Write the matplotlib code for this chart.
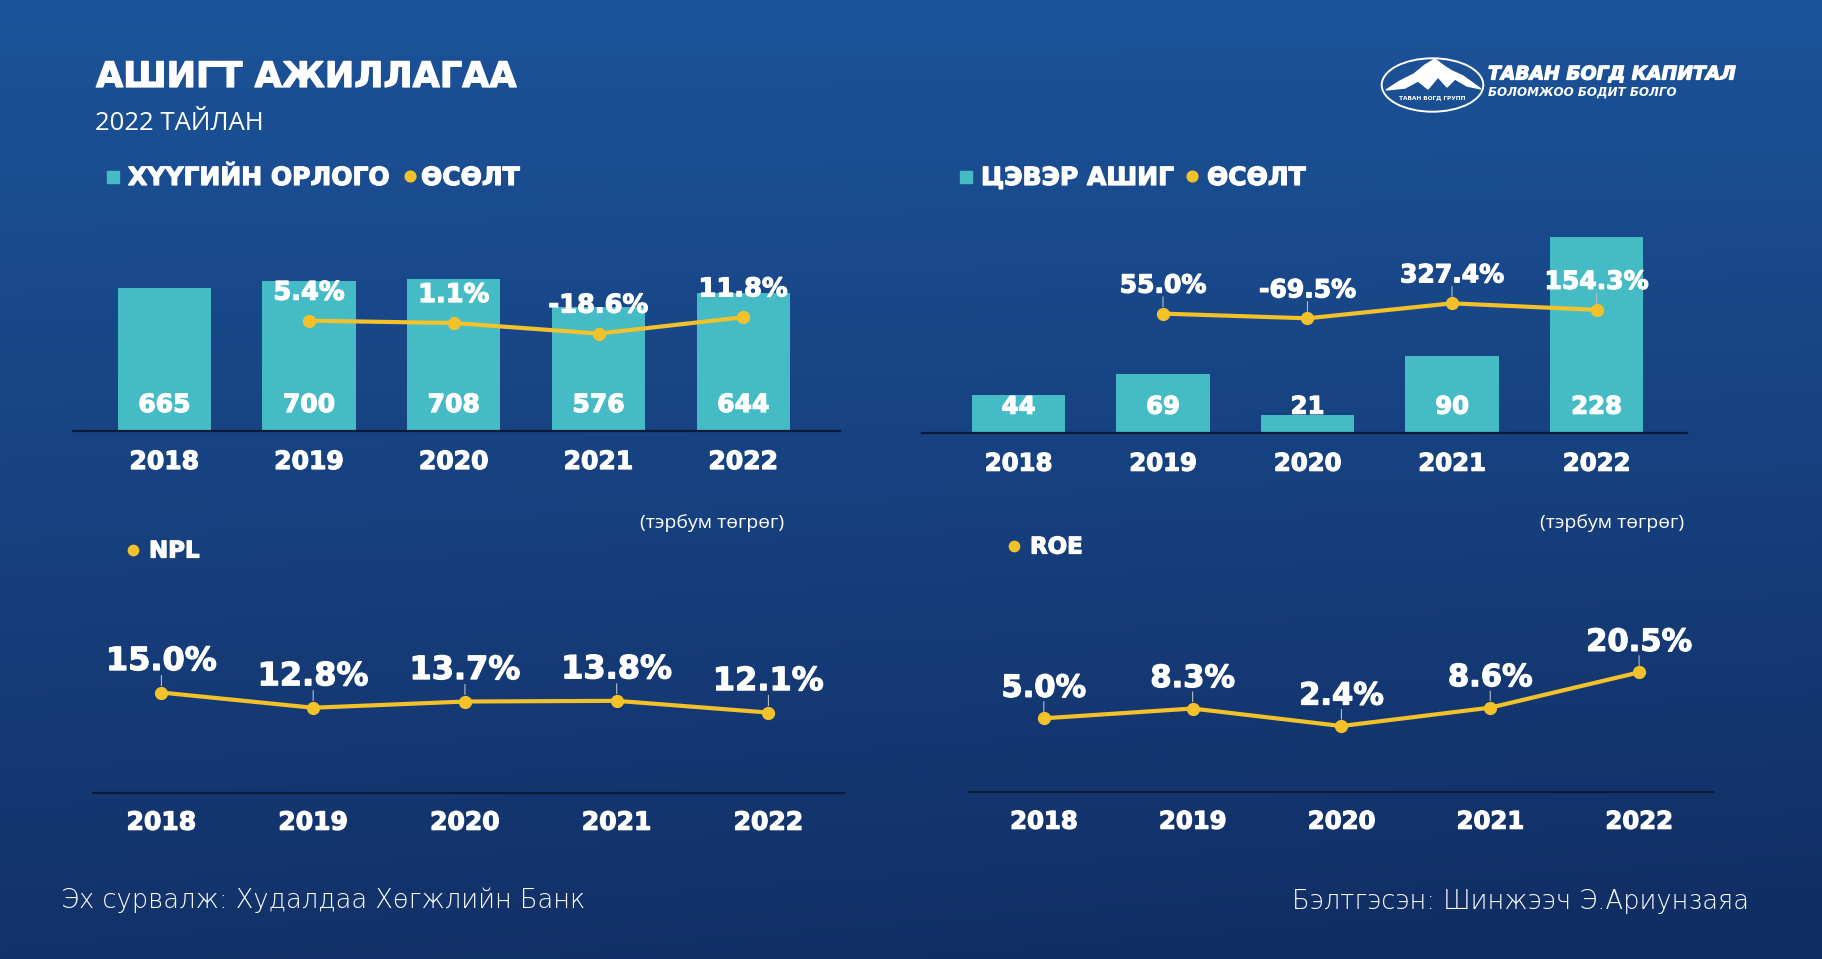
import numpy as np
import matplotlib
matplotlib.use("Agg")
import matplotlib.pyplot as plt
import matplotlib.patheffects as pe
from matplotlib.patches import Ellipse, Polygon

W, H = 1822, 959

years = ["2018", "2019", "2020", "2021", "2022"]
interest_income = [665, 700, 708, 576, 644]
interest_growth = [5.4, 1.1, -18.6, 11.8]      # 2019-2022
net_profit = [44, 69, 21, 90, 228]
profit_growth = [55.0, -69.5, 327.4, 154.3]    # 2019-2022
npl = [15.0, 12.8, 13.7, 13.8, 12.1]
roe = [5.0, 8.3, 2.4, 8.6, 20.5]

TEAL = "#45bbc6"
GOLD = "#f3c22b"
AXIS = "#0b1a36"
LEAD = "#b4bdca"
WHITE = "white"
BOLD = "DejaVu Sans"
LIGHT = "Open Sans"
HEAVY = [pe.withStroke(linewidth=0.9, foreground=WHITE)]

fig = plt.figure(figsize=(W / 100, H / 100), dpi=100)

# background, pixel coords with origin top-left
bg = fig.add_axes([0, 0, 1, 1], zorder=-5)
bg.set_xlim(0, W)
bg.set_ylim(H, 0)
bg.axis("off")
yy = np.linspace(0, 1, 240)[:, None]
xx = np.linspace(0, 1, 360)[None, :]
top = np.array([0x1c, 0x53, 0x9a]) / 255
bot = np.array([0x11, 0x2d, 0x62]) / 255
t = np.clip(yy * 0.95 + (xx - 0.5) * 0.15 * yy, 0, 1)
bg.imshow(top + (bot - top) * t[..., None], extent=(0, W, H, 0), aspect="auto")


def px_axes(x0, y0, x1, y1):
    ax = fig.add_axes([x0 / W, 1 - y1 / H, (x1 - x0) / W, (y1 - y0) / H])
    ax.set_facecolor("none")
    for s in ["top", "left", "right"]:
        ax.spines[s].set_visible(False)
    ax.spines["bottom"].set_color(AXIS)
    ax.spines["bottom"].set_linewidth(1.6)
    ax.set_xticks([])
    ax.set_yticks([])
    return ax


def year_labels(ax, dy, size):
    for i, y in enumerate(years):
        ax.annotate(y, xy=(i, 0), xycoords=ax.get_xaxis_transform(),
                    xytext=(0, -dy), textcoords="offset pixels",
                    ha="center", va="center", color=WHITE, fontsize=size,
                    fontweight="bold", family=BOLD, path_effects=HEAVY)


def line_labels(ax, xs, vals, dy, size, leader):
    for x, v in zip(xs, vals):
        ax.annotate(f"{v:.1f}%", xy=(x, v), xytext=(0, dy), textcoords="offset pixels",
                    ha="center", va="center", color=WHITE, fontsize=size,
                    fontweight="bold", family=BOLD, path_effects=HEAVY, zorder=6)
        if leader:
            gap = size * 100 / 72 * 0.37
            ax.annotate("", xy=(x, v), xytext=(0, dy - gap - 2), textcoords="offset pixels",
                        arrowprops=dict(arrowstyle="-", color=LEAD, lw=0.8,
                                        shrinkA=0, shrinkB=5), zorder=3)


def combo(box, xlim, vals, per_px, growth, glim, vsize, gsize, ysize, leader):
    x0, y0, x1, y1 = box
    ax = px_axes(*box)
    ax.set_xlim(*xlim)
    ax.set_ylim(0, (y1 - y0) / per_px)
    ax.bar(range(5), vals, width=0.645, color=TEAL, zorder=2)
    for i, v in enumerate(vals):
        ax.annotate(str(v), xy=(i, 0), xytext=(0, 26), textcoords="offset pixels",
                    ha="center", va="center", color=WHITE, fontsize=vsize,
                    fontweight="bold", family=BOLD, path_effects=HEAVY, zorder=5)
    year_labels(ax, 31, ysize)
    ax2 = ax.twinx()
    ax2.set_ylim(*glim)
    ax2.axis("off")
    ax2.plot(range(1, 5), growth, color=GOLD, lw=3, marker="o", ms=8.5, zorder=4)
    line_labels(ax2, range(1, 5), growth, 28, gsize, leader)
    return ax


def line_chart(box, xlim, vals, ylim, lsize, ysize, dy):
    ax = px_axes(*box)
    ax.set_xlim(*xlim)
    ax.set_ylim(*ylim)
    ax.plot(range(5), vals, color=GOLD, lw=3, marker="o", ms=8.5, zorder=4)
    line_labels(ax, range(5), vals, dy, lsize, True)
    year_labels(ax, 30, ysize)
    return ax


# top-left: interest income
combo((72.6, 200, 839.6, 431), (-0.634, 4.666), interest_income, 0.215,
      interest_growth, (-200.4, 230.6), 18, 18.5, 18, False)
# top-right: net profit
combo((921.5, 200, 1686.7, 432.7), (-0.671, 4.624), net_profit, 0.857,
      profit_growth, (-3098, 3063), 17.5, 18, 17.5, True)
# bottom-left: NPL
line_chart((93, 600, 844.3, 792.7), (-0.451, 4.50), npl, (0.5, 28.4), 23, 18, 31)
# bottom-right: ROE
line_chart((969.1, 600, 1712.9, 791.7), (-0.502, 4.496), roe, (-19.75, 44.9), 22, 17.5, 30)

# titles
bg.text(96, 77, "АШИГТ АЖИЛЛАГАА", color=WHITE, fontsize=25.3, fontweight="bold",
        family=BOLD, va="center", ha="left", path_effects=HEAVY)
bg.text(95, 124, "2022 ТАЙЛАН", color=WHITE, fontsize=18.5, family=LIGHT,
        va="center", ha="left")

# legends
legend_kw = dict(color=WHITE, fontweight="bold", family=BOLD, va="center",
                 path_effects=HEAVY)
bg.scatter([113], [177], marker="s", s=70, color=TEAL)
bg.text(128, 178, "ХҮҮГИЙН ОРЛОГО", fontsize=18, **legend_kw)
bg.scatter([410], [176], marker="o", s=60, color=GOLD)
bg.text(421, 178, "ӨСӨЛТ", fontsize=18, **legend_kw)
bg.scatter([966], [177], marker="s", s=70, color=TEAL)
bg.text(981, 178, "ЦЭВЭР АШИГ", fontsize=18, **legend_kw)
bg.scatter([1192], [176], marker="o", s=60, color=GOLD)
bg.text(1207, 178, "ӨСӨЛТ", fontsize=18, **legend_kw)
bg.scatter([132.5], [550], marker="o", s=55, color=GOLD)
bg.text(149, 551, "NPL", fontsize=16.5, **legend_kw)
bg.scatter([1014], [546], marker="o", s=55, color=GOLD)
bg.text(1030, 547, "ROE", fontsize=16.5, **legend_kw)

# units
bg.text(784, 523, "(тэрбум төгрөг)", color=WHITE, fontsize=14, family=LIGHT,
        va="center", ha="right")
bg.text(1684, 523, "(тэрбум төгрөг)", color=WHITE, fontsize=14, family=LIGHT,
        va="center", ha="right")

# footer
bg.text(61, 900, "Эх сурвалж: Худалдаа Хөгжлийн Банк", color=WHITE, fontsize=18.5,
        family="DejaVu Sans", fontweight="light", va="center", ha="left")
bg.text(1749, 902, "Бэлтгэсэн: Шинжээч Э.Ариунзаяа", color=WHITE, fontsize=18.5,
        family="DejaVu Sans", fontweight="light", va="center", ha="right")

# logo
bg.add_patch(Ellipse((1432.5, 85), 101.6, 53.4, fill=False, ec=WHITE, lw=1.4))
bg.add_patch(Polygon([(1386, 90), (1400, 81), (1414, 74), (1425, 65), (1435, 59),
                      (1444, 66), (1452, 71), (1463, 76), (1481, 89), (1467, 86),
                      (1455, 79), (1447, 87), (1438, 77), (1428, 89), (1418, 81),
                      (1405, 88)], closed=True, color=WHITE))
bg.text(1432, 98, "ТАВАН БОГД ГРУПП", color=WHITE, fontsize=4.2, fontweight="bold",
        family=BOLD, ha="center", va="center")
bg.text(1488, 74, "ТАВАН БОГД КАПИТАЛ", color=WHITE, fontsize=13.5, fontweight="bold",
        style="italic", family=BOLD, ha="left", va="center", path_effects=HEAVY)
bg.text(1488, 92, "БОЛОМЖОО БОДИТ БОЛГО", color=WHITE, fontsize=8.6, fontweight="bold",
        style="italic", family=BOLD, ha="left", va="center")

fig.savefig("out.png", dpi=100)
